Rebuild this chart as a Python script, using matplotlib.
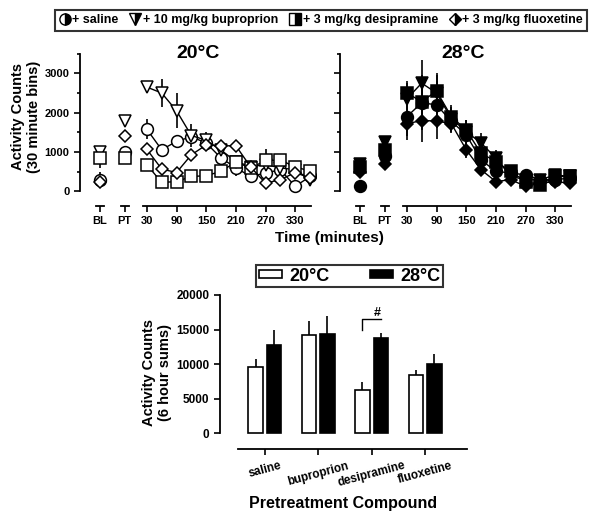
import matplotlib
matplotlib.use('Agg')
import matplotlib.pyplot as plt
from matplotlib.lines import Line2D
from matplotlib.patches import Rectangle

plt.rcParams['font.family'] = ['Liberation Sans', 'DejaVu Sans']
plt.rcParams['font.weight'] = 'bold'

# ---- data: 30 minute bins ----
times = [30, 60, 90, 120, 150, 180, 210, 240, 270, 300, 330, 360]
time_ticks = [30, 90, 150, 210, 270, 330]
drugs = ['saline', 'buproprion', 'desipramine', 'fluoxetine']
markers = ['o', 'v', 's', 'D']
msizes = [8.5, 9, 8.5, 6]

sal20 = [1580, 1060, 1270, 1390, 1230, 850, 600, 380, 470, 550, 130, 380]
bup20 = [2650, 2500, 2050, 1420, 1300, 1050, 760, 630, 680, 600, 550, 300]
des20 = [680, 230, 250, 380, 400, 510, 750, 590, 790, 790, 630, 510]
flx20 = [1070, 570, 480, 930, 1180, 1160, 1160, 620, 210, 300, 480, 340]
sal20_err = [250, 150, 100, 100, 150, 150, 200, 150, 150, 150, 100, 150]
bup20_err = [150, 350, 450, 300, 200, 150, 150, 150, 200, 150, 150, 150]
des20_err = [100, 80, 80, 100, 100, 150, 150, 150, 300, 150, 100, 150]
flx20_err = [150, 100, 100, 100, 100, 100, 100, 100, 80, 80, 100, 100]
bl20 = [300, 1000, 850, 250]
bl20_err = [200, 100, 250, 100]
pt20 = [1000, 1800, 850, 1400]
pt20_err = [100, 150, 100, 100]

sal28 = [1900, 2250, 2200, 1780, 1440, 800, 510, 470, 420, 300, 300, 340]
bup28 = [2350, 2750, 2500, 1850, 1520, 1230, 850, 380, 300, 300, 420, 380]
des28 = [2500, 2280, 2550, 1900, 1560, 970, 760, 510, 250, 170, 380, 380]
flx28 = [1720, 1800, 1790, 1720, 1060, 550, 250, 300, 130, 210, 250, 210]
sal28_err = [600, 700, 600, 300, 300, 200, 150, 100, 100, 100, 100, 100]
bup28_err = [400, 600, 500, 300, 300, 250, 200, 100, 100, 100, 100, 100]
des28_err = [300, 400, 400, 300, 250, 200, 200, 100, 100, 100, 100, 100]
flx28_err = [300, 550, 450, 200, 200, 150, 100, 100, 80, 80, 80, 80]
bl28 = [150, 700, 630, 500]
bl28_err = [100, 100, 100, 100]
pt28 = [900, 1250, 1050, 700]
pt28_err = [150, 150, 150, 150]

# ---- data: 6 hour sums ----
sum20 = [9650, 14200, 6300, 8350]
sum20_err = [1050, 2100, 1100, 750]
sum28 = [12700, 14300, 13800, 10000]
sum28_err = [2300, 2600, 700, 1400]

X_BL, X_PT = -65, -15

fig = plt.figure(figsize=(6.04, 5.17), dpi=100)


def time_panel(ax, series, errs, bl, bl_err, pt, pt_err, face, title, ylabels):
    for i in range(4):
        ax.errorbar(times, series[i], yerr=errs[i], fmt='none', ecolor='k',
                    elinewidth=1.2, capsize=0, zorder=2)
        ax.plot(times, series[i], '-', color='k', lw=1, marker=markers[i],
                ms=msizes[i], mfc=face, mec='k', mew=1.1, zorder=3)
        ax.errorbar([X_BL, X_PT], [bl[i], pt[i]], yerr=[bl_err[i], pt_err[i]],
                    fmt='none', ecolor='k', elinewidth=1.2, capsize=0, zorder=2)
        ax.plot([X_BL, X_PT], [bl[i], pt[i]], ls='none', marker=markers[i],
                ms=msizes[i], mfc=face, mec='k', mew=1.1, zorder=3)
    ax.set_xlim(-105, 372)
    ax.set_ylim(-370, 3500)
    for s in ['top', 'right', 'bottom']:
        ax.spines[s].set_visible(False)
    ax.spines['left'].set_bounds(0, 3500)
    ax.spines['left'].set_linewidth(1.3)
    tr = ax.get_xaxis_transform()
    for a, b in [(-73, -57), (-23, -7), (22, 362)]:
        ax.plot([a, b], [0, 0], color='k', lw=1.3, transform=tr, clip_on=False)
    ax.set_xticks([X_BL, X_PT] + time_ticks)
    ax.set_xticklabels(['BL', 'PT'] + [str(t) for t in time_ticks])
    ax.set_yticks([0, 1000, 2000, 3000])
    ax.set_yticks([500, 1500, 2500, 3500], minor=True)
    ax.tick_params(axis='both', labelsize=8, width=1.2, length=4)
    ax.tick_params(axis='y', which='minor', width=1.2, length=2.5)
    if not ylabels:
        ax.set_yticklabels([])
    for lab in ax.get_xticklabels() + ax.get_yticklabels():
        lab.set_fontweight('bold')
    ax.text(0.5 if title == '20°C' else 0.52, 1.0, title, transform=ax.transAxes,
            ha='center', va='center', fontsize=14, fontweight='bold')


ax1 = fig.add_axes([0.1325, 0.6015, 0.3907, 0.2948])
time_panel(ax1, [sal20, bup20, des20, flx20],
           [sal20_err, bup20_err, des20_err, flx20_err],
           bl20, bl20_err, pt20, pt20_err, 'white', '20°C', True)

ax2 = fig.add_axes([0.563, 0.6015, 0.3907, 0.2948])
time_panel(ax2, [sal28, bup28, des28, flx28],
           [sal28_err, bup28_err, des28_err, flx28_err],
           bl28, bl28_err, pt28, pt28_err, 'black', '28°C', False)

fig.text(0.043, 1 - 117 / 517, 'Activity Counts\n(30 minute bins)', rotation=90,
         ha='center', va='center', fontsize=10.5, fontweight='bold', linespacing=1.15)
fig.text(329 / 604, 1 - 238 / 517, 'Time (minutes)', ha='center', va='center',
         fontsize=11, fontweight='bold')

# top legend
labels = ['+ saline', '+ 10 mg/kg buproprion', '+ 3 mg/kg desipramine',
          '+ 3 mg/kg fluoxetine']
handles = [Line2D([], [], ls='none', marker=markers[i], ms=msizes[i] * 0.95,
                  fillstyle='right', mfc='k', mfcalt='white', mec='k', mew=1)
           for i in range(4)]
leg = fig.legend(handles, labels, ncol=4, loc='upper center',
                 bbox_to_anchor=(0.532, 0.993), frameon=True, fancybox=False,
                 edgecolor='k', handlelength=0.8, handletextpad=0.2,
                 columnspacing=0.95, borderpad=0.35,
                 prop={'size': 9, 'weight': 'bold'})
leg.get_frame().set_linewidth(1.5)

# ---- bar panel ----
ax3 = fig.add_axes([0.364, 0.131, 0.409, 0.2985])
xpos = list(range(len(drugs)))
w = 0.27
off = 0.173
ax3.bar([x - off for x in xpos], sum20, width=w, color='white', edgecolor='k',
        lw=1.2, label='20°C', zorder=2)
ax3.bar([x + off for x in xpos], sum28, width=w, color='black', edgecolor='k',
        lw=1.2, label='28°C', zorder=2)
ax3.errorbar([x - off for x in xpos], sum20, yerr=[[0] * 4, sum20_err],
             fmt='none', ecolor='k', elinewidth=1.2, capsize=0, zorder=1)
ax3.errorbar([x + off for x in xpos], sum28, yerr=[[0] * 4, sum28_err],
             fmt='none', ecolor='k', elinewidth=1.2, capsize=0, zorder=1)
ax3.set_xlim(-0.84, 3.78)
ax3.set_ylim(-2320, 20000)
for s in ['top', 'right']:
    ax3.spines[s].set_visible(False)
ax3.spines['left'].set_bounds(0, 20000)
ax3.spines['bottom'].set_bounds(-0.5, 3.78)
ax3.spines['left'].set_linewidth(1.3)
ax3.spines['bottom'].set_linewidth(1.3)
ax3.set_yticks([0, 5000, 10000, 15000, 20000])
ax3.set_xticks(xpos)
ax3.set_xticklabels(drugs, rotation=15, ha='center')
ax3.tick_params(axis='both', labelsize=8.5, width=1.2, length=4)
for lab in ax3.get_xticklabels() + ax3.get_yticklabels():
    lab.set_fontweight('bold')
ax3.set_xlabel('Pretreatment Compound', fontsize=11.5, fontweight='bold', labelpad=5)
ax3.set_ylabel('Activity Counts\n(6 hour sums)', fontsize=10.5, fontweight='bold',
               labelpad=3, linespacing=1.15)

# significance bracket
ax3.plot([2 - off, 2 - off, 2 + off], [15000, 16560, 16560], color='k', lw=1)
ax3.text(2.11, 17400, '#', ha='center', va='center', fontsize=9, fontweight='bold')

bh = [Rectangle((0, 0), 1, 1, facecolor='white', edgecolor='k', lw=1.2),
      Rectangle((0, 0), 1, 1, facecolor='black', edgecolor='k', lw=1.2)]
leg2 = fig.legend(bh, ['20°C', '28°C'], ncol=2, loc='upper center',
                  bbox_to_anchor=(0.579, 1 - 263 / 517), frameon=True,
                  fancybox=False, edgecolor='k', handlelength=1.3,
                  handleheight=0.35, handletextpad=0.4, columnspacing=2.2,
                  borderpad=0.15, borderaxespad=0.1,
                  prop={'size': 13, 'weight': 'bold'})
leg2.get_frame().set_linewidth(1.5)

fig.savefig('out.png', dpi=100)
